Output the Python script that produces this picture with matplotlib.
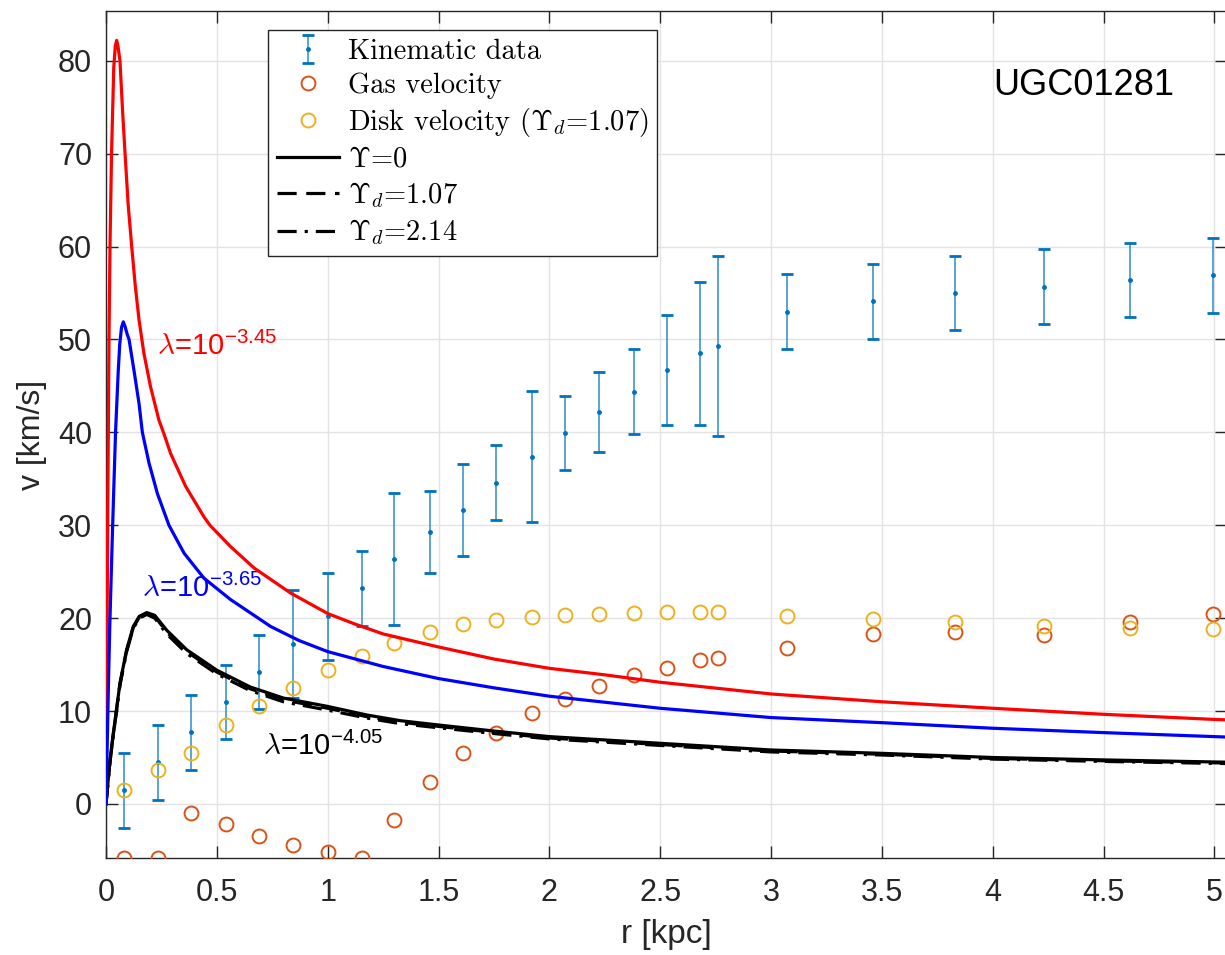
import matplotlib
matplotlib.use('Agg')
import matplotlib.pyplot as plt

plt.rcParams['mathtext.fontset'] = 'cm'
plt.rcParams['font.family'] = ['Liberation Sans', 'DejaVu Sans']

# ---- kinematic data ----
r_obs = [0.083, 0.233, 0.382, 0.543, 0.692, 0.842, 1.003, 1.153, 1.300, 1.461,
         1.612, 1.761, 1.922, 2.072, 2.222, 2.382, 2.531, 2.681, 2.760, 3.070,
         3.461, 3.829, 4.229, 4.621, 4.991]
v_obs = [1.45, 4.47, 7.7, 11.0, 14.2, 17.2, 20.2, 23.2, 26.4, 29.3,
         31.6, 34.6, 37.4, 39.9, 42.2, 44.4, 46.7, 48.5, 49.3, 53.0,
         54.1, 55.0, 55.7, 56.4, 56.9]
v_err = [4.0, 4.0, 4.0, 4.0, 4.0, 5.8, 4.7, 4.0, 7.1, 4.4,
         4.95, 4.0, 7.1, 4.0, 4.35, 4.6, 5.9, 7.7, 9.7, 4.0,
         4.0, 4.0, 4.0, 4.0, 4.0]
v_gas = [-5.85, -5.85, -0.97, -2.19, -3.44, -4.41, -5.13, -5.85, -1.72, 2.33,
         5.45, 7.64, 9.8, 11.27, 12.74, 13.92, 14.67, 15.46, 15.75, 16.83,
         18.3, 18.48, 18.16, 19.62, 20.45]
v_disk = [1.54, 3.66, 5.49, 8.47, 10.58, 12.49, 14.39, 15.9, 17.3, 18.48,
          19.4, 19.8, 20.16, 20.3, 20.5, 20.56, 20.7, 20.63, 20.63, 20.27,
          19.9, 19.6, 19.16, 18.9, 18.84]

# ---- model curves ----
r_red = [0, 0.004, 0.008, 0.0135, 0.018, 0.025, 0.035, 0.042, 0.048, 0.054,
         0.063, 0.075, 0.086, 0.1, 0.116, 0.132, 0.149, 0.171, 0.201, 0.239,
         0.259, 0.292, 0.359, 0.442, 0.469, 0.562, 0.668, 0.833, 1.0, 1.119,
         1.25, 1.5, 1.75, 2.0, 2.25, 2.5, 3.0, 3.5, 4.0, 4.5,
         5.0, 5.056]
v_red = [0, 15, 32, 50, 60, 70, 79.3, 81.6, 82.2, 81.6,
         80, 74.5, 70, 64.5, 60, 55.8, 52.1, 48.5, 44.9, 41.3,
         40.0, 37.7, 34.2, 30.9, 30.0, 27.7, 25.4, 22.7, 20.5, 19.4,
         18.3, 16.9, 15.6, 14.6, 13.9, 13.1, 11.84, 11.0, 10.3, 9.65,
         9.1, 9.05]

r_blue = [0, 0.006, 0.012, 0.018, 0.03, 0.043, 0.055, 0.062, 0.07, 0.078,
          0.086, 0.095, 0.104, 0.126, 0.149, 0.164, 0.194, 0.232, 0.284, 0.352,
          0.442, 0.562, 0.743, 0.87, 1.0, 1.25, 1.5, 1.75, 2.0, 2.5,
          3.0, 3.5, 4.0, 4.5, 5.0, 5.056]
v_blue = [0, 7, 14, 20, 30, 40, 46.5, 49.5, 51.3, 51.9,
          51.4, 50.6, 50.0, 46.7, 43.1, 40.0, 36.7, 33.4, 30.0, 27.0,
          24.3, 22.0, 19.1, 17.6, 16.4, 14.8, 13.5, 12.5, 11.6, 10.3,
          9.3, 8.75, 8.15, 7.68, 7.25, 7.2]

r_blk = [0, 0.018, 0.033, 0.063, 0.093, 0.123, 0.15, 0.184, 0.22, 0.274,
         0.364, 0.5, 0.65, 0.8, 1.0, 1.176, 1.326, 1.5, 1.75, 2.0,
         2.5, 3.0, 3.5, 4.0, 4.5, 5.0, 5.056]
v_blk0 = [0, 4.7, 7.6, 13.0, 16.6, 19.1, 20.2, 20.6, 20.3, 18.7,
          16.6, 14.4, 12.6, 11.4, 10.5, 9.58, 8.97, 8.5, 7.85, 7.25,
          6.53, 5.81, 5.45, 5.0, 4.74, 4.52, 4.5]
v_blk1 = [0, 4.6, 7.5, 12.9, 16.5, 19.0, 20.1, 20.5, 20.2, 18.5,
          16.4, 14.2, 12.4, 11.2, 10.3, 9.4, 8.8, 8.35, 7.7, 7.1,
          6.4, 5.7, 5.35, 4.9, 4.65, 4.43, 4.41]
v_blk2 = [0, 4.5, 7.4, 12.8, 16.4, 18.9, 20.0, 20.4, 20.0, 18.3,
          16.2, 14.0, 12.2, 11.0, 10.1, 9.25, 8.65, 8.2, 7.58, 7.0,
          6.3, 5.6, 5.27, 4.83, 4.58, 4.37, 4.35]

x_ticks = [0, 0.5, 1, 1.5, 2, 2.5, 3, 3.5, 4, 4.5, 5]
x_ticklabels = ['0', '0.5', '1', '1.5', '2', '2.5', '3', '3.5', '4', '4.5', '5']
y_ticks = [0, 10, 20, 30, 40, 50, 60, 70, 80]

W, H = 1225, 955
fig = plt.figure(figsize=(W / 100, H / 100), dpi=100)
ax = fig.add_axes([106 / W, (H - 858.3) / H, (1227 - 106) / W, (858.3 - 11.3) / H])

dark = '#262626'
ax.grid(True, color='#e3e3e3', linewidth=1.0)
ax.set_axisbelow(True)

eb = ax.errorbar(r_obs, v_obs, yerr=v_err, fmt='.', color='#0072BD', markersize=5,
                 elinewidth=1.2, capsize=4.3, capthick=2.0, ecolor='#0072BD',
                 label='Kinematic data', zorder=3)
for lc in eb[2]:
    lc.set_alpha(0.75)
h_gas, = ax.plot(r_obs, v_gas, 'o', mfc='none', mec='#D95319', mew=1.4, ms=10,
                 label='Gas velocity', zorder=4)
h_disk, = ax.plot(r_obs, v_disk, 'o', mfc='none', mec='#EDB120', mew=1.4, ms=10,
                  label=r'Disk velocity ($\Upsilon_d$=1.07)', zorder=4)

h0, = ax.plot(r_blk, v_blk0, '-', color='black', lw=2.3, label=r'$\Upsilon$=0', zorder=5)
h1, = ax.plot(r_blk, v_blk1, '--', color='black', lw=2.3, dashes=(6, 3),
              label=r'$\Upsilon_d$=1.07', zorder=5)
h2, = ax.plot(r_blk, v_blk2, '-.', color='black', lw=2.3, dashes=(6, 2.5, 1, 2.5),
              label=r'$\Upsilon_d$=2.14', zorder=5)
ax.plot(r_red, v_red, '-', color='#FF0000', lw=2.3, zorder=5)
ax.plot(r_blue, v_blue, '-', color='#0000FF', lw=2.3, zorder=5)

ax.set_xlim(0, (1227 - 106) / 221.7)
ax.set_ylim(-5.85, 85.33)
ax.set_xticks(x_ticks)
ax.set_xticklabels(x_ticklabels)
ax.set_yticks(y_ticks)
ax.tick_params(direction='in', length=8.5, width=1.0, colors=dark, labelsize=22,
               top=True, right=True)
ax.tick_params(axis='x', pad=14)
ax.tick_params(axis='y', pad=10)
for s in ax.spines.values():
    s.set_color(dark)
    s.set_linewidth(1.0)

ax.set_xlabel('r [kpc]', fontsize=24, color=dark, labelpad=8)
ax.set_ylabel('v [km/s]', fontsize=23, color=dark, labelpad=8)

ax.text(4.0, 76.3, 'UGC01281', fontsize=26, color='black', ha='left', va='baseline')
ax.text(0.229, 48.3, r'$\lambda$=10$^{\mathregular{-3.45}}$', fontsize=21,
        color='#FF0000', ha='left', va='baseline')
ax.text(0.161, 22.3, r'$\lambda$=10$^{\mathregular{-3.65}}$', fontsize=21,
        color='#0000FF', ha='left', va='baseline')
ax.text(0.709, 5.27, r'$\lambda$=10$^{\mathregular{-4.05}}$', fontsize=21,
        color='black', ha='left', va='baseline')

leg = ax.legend(handles=[eb, h_gas, h_disk, h0, h1, h2],
                loc='upper left', bbox_to_anchor=(268 / W, (H - 30) / H),
                bbox_transform=fig.transFigure, borderaxespad=0,
                prop={'family': 'cmr10', 'size': 20.5}, frameon=True, fancybox=False,
                framealpha=1, edgecolor=dark, handlelength=2.2, labelspacing=0.26,
                handletextpad=0.3, borderpad=0.3)
leg.get_frame().set_linewidth(1.0)

fig.savefig('out.png', dpi=100)
